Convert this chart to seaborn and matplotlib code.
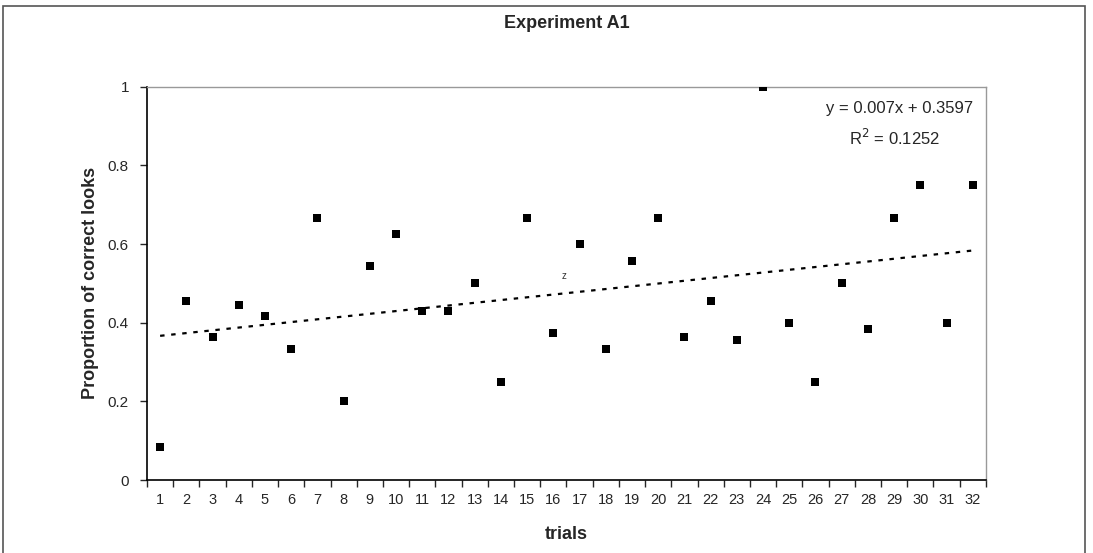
import numpy as np
import pandas as pd
import seaborn as sns
import matplotlib.pyplot as plt
from matplotlib.patches import Rectangle

# data
trials = list(range(1, 33))
proportion = [0.083, 0.455, 0.364, 0.444, 0.417, 0.333, 0.667, 0.2,
              0.545, 0.625, 0.429, 0.429, 0.5, 0.25, 0.667, 0.375,
              0.6, 0.333, 0.556, 0.667, 0.364, 0.455, 0.357, 1.0,
              0.4, 0.25, 0.5, 0.385, 0.667, 0.75, 0.4, 0.75]
slope = 0.007
intercept = 0.3597
r_squared = 0.1252
y_ticks = [0, 0.2, 0.4, 0.6, 0.8, 1]
y_tick_labels = ['0', '0.2', '0.4', '0.6', '0.8', '1']

df = pd.DataFrame({'trial': trials, 'proportion': proportion})

sns.set_style('white')
plt.rcParams['font.family'] = ['Liberation Sans', 'DejaVu Sans']

fig = plt.figure(figsize=(10.93, 5.53), dpi=100)
ax = fig.add_axes([0.1345, 0.132, 0.7675, 0.711])

sns.scatterplot(data=df, x='trial', y='proportion', marker='s', s=40,
                color='black', edgecolor='black', linewidth=0, ax=ax, zorder=3)

# linear trendline as given by the equation
x_line = np.array([trials[0], trials[-1]])
ax.plot(x_line, slope * x_line + intercept, color='black', linestyle=(0, (2, 3)),
        linewidth=1.6, zorder=2)

ax.set_xlim(0.5, 32.5)
ax.set_ylim(0, 1)
ax.set_xticks(np.arange(0.5, 33, 1))
ax.set_xticklabels([])
ax.set_xticks(trials, minor=True)
ax.set_xticklabels([str(t) for t in trials], minor=True, fontsize=10.5)
ax.tick_params(axis='x', which='major', length=5, width=1, direction='out', bottom=True)
ax.tick_params(axis='x', which='minor', length=0, pad=9)
ax.set_yticks(y_ticks)
ax.set_yticklabels(y_tick_labels, fontsize=11)
ax.tick_params(axis='y', length=5, width=1, direction='out', left=True, pad=8)

for side in ['left', 'bottom']:
    ax.spines[side].set_color('black')
    ax.spines[side].set_linewidth(1.2)
for side in ['top', 'right']:
    ax.spines[side].set_color('#999999')
    ax.spines[side].set_linewidth(1)

ax.set_xlabel('trials', fontsize=13, fontweight='bold', labelpad=14)
ax.set_ylabel('Proportion of correct looks', fontsize=13, fontweight='bold', labelpad=6)
ax.set_title('Experiment A1', fontsize=13, fontweight='bold', pad=42)

ax.text(0.985, 0.944, f'y = {slope}x + {intercept}', transform=ax.transAxes,
        ha='right', va='center', fontsize=12)
ax.text(0.891, 0.87, f'R$^2$ = {r_squared}', transform=ax.transAxes,
        ha='center', va='center', fontsize=12)
ax.text(16.4, 0.52, 'z', fontsize=7, ha='center', va='center', color='#333333')

# outer chart border
fig.patches.append(Rectangle((0.003, -0.05), 0.990, 1.04, transform=fig.transFigure,
                             fill=False, edgecolor='#555555', linewidth=1.2))

fig.savefig('out.png', dpi=100)
